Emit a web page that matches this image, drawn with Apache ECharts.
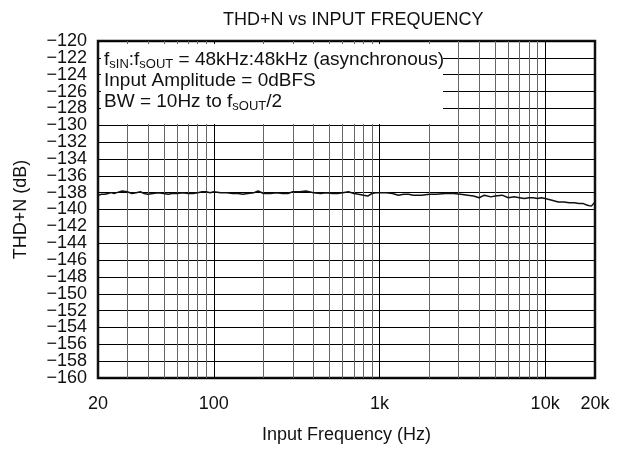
<!DOCTYPE html>
<html lang="en">
<head>
    <meta charset="UTF-8">
    <script src="https://cdn.jsdelivr.net/npm/echarts@6/dist/echarts.min.js"></script>
    <title>THD+N vs Input Frequency</title>
    <style>
        body { margin: 0; background: #fff; }
    </style>
</head>
<body>
    <div id="main" style="width: 625px; height: 449px;"></div>

    <script>
        var freqs = [20, 21, 22, 23, 24, 25, 26, 28, 30, 32, 34, 36, 38, 40, 43, 46, 50, 53, 56, 60,
            65, 70, 75, 80, 85, 90, 95, 100, 110, 120, 130, 140, 150, 160, 175, 185, 200, 220, 240, 260,
            280, 300, 330, 360, 400, 440, 480, 520, 560, 600, 650, 700, 750, 800, 850, 900, 950, 1000,
            1100, 1200, 1300, 1400, 1500, 1600, 1800, 2000, 2200, 2500, 2800, 3100, 3400, 3700, 4000,
            4300, 4700, 5000, 5500, 6000, 6500, 7000, 7500, 8000, 8500, 9000, 9500, 10000, 11000, 12000,
            13000, 14000, 15000, 16000, 17000, 18000, 19000, 19500, 20000];
        var thdn = [-138.3, -138.2, -138.2, -138.1, -138.0, -138.1, -138.0, -137.8, -137.9, -138.1,
            -138.0, -137.9, -138.1, -138.2, -138.1, -138.0, -138.1, -138.2, -138.1, -138.1,
            -138.0, -138.1, -138.1, -138.0, -137.9, -137.9, -138.0, -137.9, -138.0, -138.0,
            -138.1, -138.1, -138.2, -138.1, -138.0, -137.8, -138.1, -138.1, -138.0, -138.1,
            -138.1, -137.9, -137.9, -137.8, -138.0, -138.1, -138.0, -138.1, -138.1, -138.0,
            -137.9, -138.1, -138.2, -138.3, -138.4, -138.1, -138.0, -138.0,
            -138.0, -138.1, -138.3, -138.2, -138.2, -138.3, -138.3, -138.2, -138.2, -138.1, -138.1, -138.2,
            -138.3, -138.4, -138.6, -138.3, -138.5, -138.4, -138.3, -138.6, -138.5, -138.6,
            -138.7, -138.6, -138.6, -138.7, -138.6, -138.7, -138.9, -139.1, -139.1, -139.2,
            -139.2, -139.3, -139.3, -139.5, -139.6, -139.5, -139.1];

        var yMin = -160, yMax = -120;

        // vertical grid lines (log decades get a darker line)
        var gridFreqs = [30, 40, 50, 60, 70, 80, 90, 100, 200, 300, 400, 500, 600, 700, 800, 900,
            1000, 2000, 3000, 4000, 5000, 6000, 7000, 8000, 9000, 10000];
        var decades = [100, 1000, 10000];

        var FONT = "'Liberation Sans', Arial, Helvetica, sans-serif";

        var chartDom = document.getElementById('main');
        var myChart = echarts.init(chartDom);

        var data = freqs.map(function (f, i) { return [f, thdn[i]]; });
        var vLines = gridFreqs.map(function (f) {
            var dec = decades.indexOf(f) >= 0;
            return {
                xAxis: f,
                lineStyle: { color: dec ? '#000' : '#666', width: 1, type: 'solid' }
            };
        });

        function dbLabel(v) {
            return String(v).replace('-', '\u2212');
        }

        var yLabelStyle = { margin: 11, fontFamily: FONT, fontSize: 18, color: '#111' };

        // rich text styles for the note box (subscripts)
        var noteRich = {
            a: { fontFamily: FONT, fontSize: 19, lineHeight: 22, fill: '#111', verticalAlign: 'middle' },
            s: { fontFamily: FONT, fontSize: 13, lineHeight: 14, fill: '#111', verticalAlign: 'bottom' }
        };

        var option = {
            animation: false,
            backgroundColor: '#fff',
            title: {
                text: 'THD+N vs INPUT FREQUENCY',
                left: 218,
                top: 6,
                textStyle: { fontFamily: FONT, fontSize: 18, fontWeight: 'normal', color: '#111' }
            },
            grid: {
                left: 98, right: 30, top: 41, bottom: 71,
                show: true,
                borderColor: '#111',
                borderWidth: 2.5,
                backgroundColor: 'transparent'
            },
            xAxis: {
                type: 'log',
                logBase: 10,
                min: 20,
                max: 20000,
                name: 'Input Frequency (Hz)',
                nameLocation: 'middle',
                nameGap: 48,
                nameTextStyle: { fontFamily: FONT, fontSize: 18, color: '#111' },
                axisLine: { show: false },
                axisTick: { show: false },
                splitLine: { show: false },
                axisLabel: {
                    margin: 17,
                    fontFamily: FONT,
                    fontSize: 18,
                    color: '#111',
                    formatter: function (v) {
                        return v >= 1000 ? (v / 1000) + 'k' : String(v);
                    }
                }
            },
            yAxis: [{
                type: 'value',
                position: 'left',
                min: yMin,
                max: yMax,
                interval: 2,
                name: 'THD+N (dB)',
                nameLocation: 'middle',
                nameGap: 68,
                nameTextStyle: { fontFamily: FONT, fontSize: 18, color: '#111' },
                axisLine: { show: false },
                axisTick: { show: false },
                splitLine: { show: true, lineStyle: { color: '#000', width: 1 } },
                axisLabel: Object.assign({}, yLabelStyle, { formatter: dbLabel })
            }, {
                // second copy of the scale only to show the end labels (-120 / -160),
                // which echarts drops when they crowd their neighbours
                type: 'value',
                position: 'left',
                offset: 0,
                min: yMin,
                max: yMax,
                interval: 2,
                axisLine: { show: false },
                axisTick: { show: false },
                splitLine: { show: false },
                axisLabel: Object.assign({}, yLabelStyle, {
                    showMinLabel: true,
                    showMaxLabel: true,
                    formatter: function (v) {
                        return (v === yMin || v === yMax) ? dbLabel(v) : '';
                    }
                })
            }],
            series: [{
                type: 'line',
                data: data,
                yAxisIndex: 0,
                showSymbol: false,
                symbol: 'none',
                z: 3,
                lineStyle: { color: '#111', width: 1.5 },
                markLine: {
                    silent: true,
                    symbol: 'none',
                    z: 1,
                    animation: false,
                    label: { show: false },
                    data: vLines
                }
            }],
            graphic: [
                {
                    type: 'rect',
                    z: 100,
                    shape: { x: 101, y: 44, width: 342, height: 80 },
                    style: { fill: '#fff' }
                },
                {
                    type: 'text',
                    z: 101,
                    x: 104, y: 49,
                    style: {
                        text: '{a|f}{s|sIN}{a|:f}{s|sOUT}{a| = 48kHz:48kHz (asynchronous)}',
                        rich: noteRich
                    }
                },
                {
                    type: 'text',
                    z: 101,
                    x: 104, y: 70,
                    style: {
                        text: 'Input Amplitude = 0dBFS',
                        fontFamily: FONT, fontSize: 19, lineHeight: 22, fill: '#111'
                    }
                },
                {
                    type: 'text',
                    z: 101,
                    x: 104, y: 91,
                    style: {
                        text: '{a|BW = 10Hz to f}{s|sOUT}{a|/2}',
                        rich: noteRich
                    }
                }
            ]
        };
        myChart.setOption(option);
    </script>
</body>
</html>
